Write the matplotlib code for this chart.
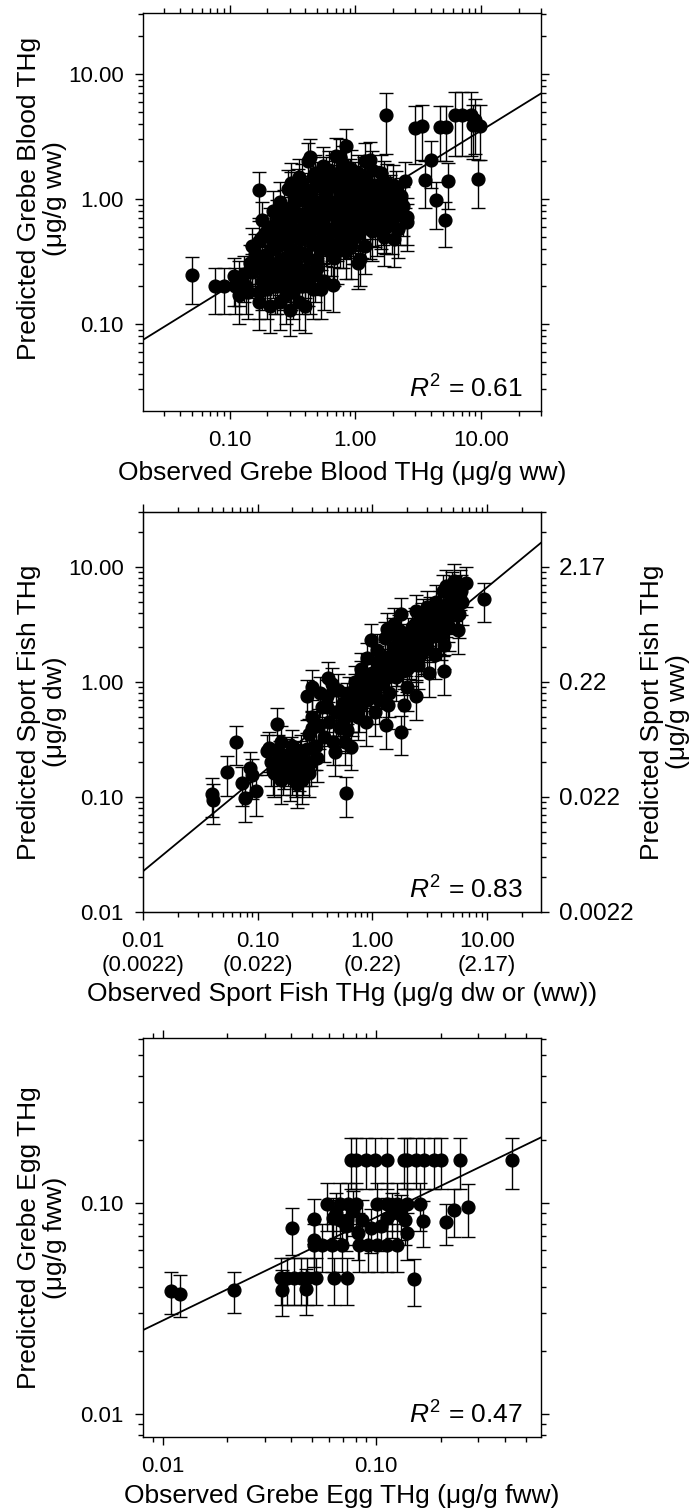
import numpy as np
import matplotlib
matplotlib.use('Agg')
import matplotlib.pyplot as plt
from matplotlib.ticker import LogLocator, NullFormatter

plt.rcParams['font.family'] = ['Liberation Sans', 'DejaVu Sans']
plt.rcParams['mathtext.fontset'] = 'custom'
plt.rcParams['mathtext.rm'] = 'Liberation Sans'
plt.rcParams['mathtext.it'] = 'Liberation Sans:italic'

# ---------------- Panel 1: Grebe blood ----------------
blood_obs = [
    0.050, 0.077, 0.090, 0.109, 0.146, 0.17, 0.18, 0.19, 0.175, 0.31, 0.44, 0.67, 0.85, 0.76, 1.06, 1.10, 1.30, 1.75, 1.75,
    2.04, 2.2, 2.6, 3.0, 3.4, 3.6, 4.0, 4.4, 4.7, 5.3, 5.5, 5.2, 6.2, 7.0, 8.4, 8.7, 9.8, 9.5, 9.0,
    0.42, 0.55, 0.62, 0.70, 0.80, 0.92, 1.05, 1.2, 1.35, 0.48, 0.75, 1.6,
    0.29, 0.33, 0.38, 0.44, 0.50, 0.56, 0.62, 0.68, 0.75, 0.83, 0.92, 1.0, 1.1, 1.25, 1.4, 1.6, 1.8, 2.1, 2.5, 1.9, 2.3, 0.36,
    0.21, 0.24, 0.27, 0.30, 0.33, 0.36, 0.40, 0.44, 0.48, 0.52, 0.57, 0.62, 0.66, 0.72, 0.78, 0.85, 0.90, 1.0, 1.1, 1.2,
    1.35, 1.5, 1.7, 2.0, 0.95, 0.60,
    0.15, 0.18, 0.20, 0.22, 0.25, 0.27, 0.30, 0.34, 0.37, 0.40, 0.45, 0.50, 0.55, 0.60, 0.68, 0.75, 0.85, 1.0, 1.2, 0.42, 0.30,
    0.11, 0.13, 0.14, 0.16, 0.18, 0.20, 0.22, 0.24, 0.26, 0.28, 0.31, 0.34, 0.38, 0.42, 0.46, 0.50, 0.56, 0.19, 0.12,
    0.17, 0.21, 0.25, 0.30, 0.36, 0.40,
    0.31, 0.35, 0.40, 0.46, 0.53, 0.59, 0.65, 0.71, 0.78, 0.87, 0.97, 1.08, 1.18, 1.32, 1.5, 1.7, 2.0, 0.45, 0.58, 0.9,
    0.22, 0.26, 0.29, 0.32, 0.35, 0.39, 0.43, 0.47, 0.51, 0.55, 0.6, 0.65, 0.7, 0.76, 0.82, 0.88, 0.95, 1.05, 1.15, 1.3,
    1.45, 1.6, 0.25, 0.38, 0.5,
    0.16, 0.17, 0.19, 0.21, 0.23, 0.26, 0.28, 0.32, 0.35, 0.39, 0.43, 0.48, 0.52, 0.58, 0.64, 0.72, 0.8, 0.92, 0.24, 0.33,
    0.12, 0.135, 0.15, 0.17, 0.19, 0.21, 0.23, 0.25, 0.27, 0.29, 0.32, 0.36, 0.40, 0.44, 0.48, 0.53, 0.15, 0.22, 0.3,
    0.7, 0.75, 0.8, 0.86, 0.92, 0.98, 1.04, 1.1, 1.17, 1.24, 1.32, 1.4, 1.48, 1.56, 1.65, 1.75, 1.85, 1.95, 2.1, 2.25,
    2.4, 2.6, 0.72, 0.84, 0.96, 1.08, 1.2, 1.36, 1.52, 1.7, 1.9, 2.2, 0.78, 0.9, 1.0, 1.14, 1.28, 1.44,
]
blood_pred = [
    0.245, 0.20, 0.20, 0.24, 0.31, 1.17, 0.68, 0.53, 0.35, 1.17, 2.18, 0.205, 2.65, 2.18, 0.31, 0.33, 2.05, 4.7, 0.60,
    0.475, 0.98, 0.72, 3.7, 3.84, 1.42, 2.07, 0.98, 3.8, 3.8, 1.39, 0.68, 4.7, 4.7, 4.7, 3.9, 3.84, 1.45, 4.3,
    2.0, 1.85, 1.7, 2.2, 1.9, 1.75, 1.6, 2.0, 1.7, 1.6, 1.55, 1.6,
    1.2, 1.05, 1.35, 1.15, 1.4, 1.0, 1.25, 1.45, 1.1, 1.3, 1.05, 1.4, 1.2, 1.0, 1.3, 1.15, 1.35, 1.2, 1.4, 1.0, 1.05, 1.5,
    0.60, 0.70, 0.85, 0.65, 0.95, 0.75, 0.60, 0.90, 0.70, 0.82, 0.60, 0.95, 0.75, 0.62, 0.88, 0.70, 0.56, 0.80, 0.65, 0.92,
    0.70, 0.85, 0.62, 0.75, 0.98, 0.58,
    0.42, 0.50, 0.36, 0.45, 0.32, 0.52, 0.40, 0.30, 0.48, 0.36, 0.44, 0.32, 0.50, 0.40, 0.34, 0.46, 0.38, 0.50, 0.42, 0.54, 0.55,
    0.20, 0.25, 0.18, 0.28, 0.22, 0.19, 0.27, 0.20, 0.24, 0.17, 0.22, 0.26, 0.20, 0.24, 0.19, 0.28, 0.22, 0.30, 0.17,
    0.15, 0.14, 0.15, 0.13, 0.15, 0.14,
    1.35, 1.2, 1.05, 1.5, 1.25, 1.1, 1.55, 1.3, 1.45, 1.15, 1.25, 1.05, 1.5, 1.15, 1.05, 1.4, 1.3, 1.0, 1.5, 1.45,
    0.8, 0.62, 0.72, 0.88, 0.58, 0.7, 0.82, 0.6, 0.95, 0.72, 0.85, 0.58, 0.9, 0.72, 0.6, 0.85, 0.68, 0.9, 0.78, 0.6,
    0.95, 0.72, 0.95, 0.98, 0.62,
    0.36, 0.46, 0.3, 0.52, 0.4, 0.44, 0.34, 0.5, 0.38, 0.54, 0.33, 0.46, 0.4, 0.52, 0.44, 0.38, 0.5, 0.42, 0.55, 0.35,
    0.23, 0.2, 0.26, 0.18, 0.25, 0.23, 0.2, 0.28, 0.21, 0.25, 0.18, 0.23, 0.27, 0.2, 0.25, 0.19, 0.3, 0.3, 0.29,
    0.95, 0.78, 1.2, 0.9, 0.68, 1.1, 0.85, 1.3, 0.72, 1.0, 0.82, 1.15, 0.6, 0.95, 0.75, 1.05, 0.85, 0.62, 0.95, 0.75,
    0.88, 0.65, 0.55, 1.4, 0.52, 0.65, 1.45, 0.55, 1.25, 0.5, 1.1, 0.58, 0.64, 0.6, 1.0, 0.58, 0.95, 0.7,
]
blood_err = [
    0.10, 0.08, 0.08, 0.10, 0.12, 0.47, 0.27, 0.21, 0.14, 0.47, 0.85, 0.08, 1.0, 0.85, 0.12, 0.13, 0.8, 2.4, 0.24,
    0.19, 0.4, 0.29, 1.8, 1.8, 0.58, 0.85, 0.4, 1.8, 1.8, 0.56, 0.27, 2.5, 2.5, 2.5, 1.8, 1.8, 0.6, 2.0,
    0.8, 0.75, 0.7, 0.85, 0.75, 0.7, 0.65, 0.8, 0.7, 0.65, 0.62, 0.65,
    0.5, 0.42, 0.55, 0.46, 0.56, 0.4, 0.5, 0.58, 0.44, 0.52, 0.42, 0.56, 0.48, 0.4, 0.52, 0.46, 0.54, 0.48, 0.56, 0.4, 0.42, 0.6,
    0.24, 0.28, 0.34, 0.26, 0.38, 0.3, 0.24, 0.36, 0.28, 0.33, 0.24, 0.38, 0.3, 0.25, 0.35, 0.28, 0.22, 0.32, 0.26, 0.37,
    0.28, 0.34, 0.25, 0.3, 0.39, 0.23,
    0.17, 0.2, 0.14, 0.18, 0.13, 0.21, 0.16, 0.12, 0.19, 0.14, 0.18, 0.13, 0.2, 0.16, 0.14, 0.18, 0.15, 0.2, 0.17, 0.22, 0.22,
    0.08, 0.1, 0.07, 0.11, 0.09, 0.08, 0.11, 0.08, 0.1, 0.07, 0.09, 0.1, 0.08, 0.1, 0.08, 0.11, 0.09, 0.12, 0.07,
    0.06, 0.055, 0.06, 0.05, 0.06, 0.055,
    0.6, 0.54, 0.47, 0.68, 0.56, 0.5, 0.7, 0.58, 0.65, 0.52, 0.56, 0.47, 0.68, 0.52, 0.47, 0.63, 0.58, 0.45, 0.68, 0.65,
    0.36, 0.28, 0.32, 0.4, 0.26, 0.32, 0.37, 0.27, 0.43, 0.32, 0.38, 0.26, 0.4, 0.32, 0.27, 0.38, 0.31, 0.4, 0.35, 0.27,
    0.43, 0.32, 0.43, 0.44, 0.28,
    0.16, 0.21, 0.13, 0.23, 0.18, 0.2, 0.15, 0.22, 0.17, 0.24, 0.15, 0.21, 0.18, 0.23, 0.2, 0.17, 0.22, 0.19, 0.25, 0.16,
    0.09, 0.08, 0.1, 0.07, 0.1, 0.09, 0.08, 0.11, 0.08, 0.1, 0.07, 0.09, 0.11, 0.08, 0.1, 0.08, 0.12, 0.12, 0.12,
    0.4, 0.33, 0.5, 0.38, 0.29, 0.46, 0.36, 0.55, 0.3, 0.42, 0.34, 0.48, 0.25, 0.4, 0.32, 0.44, 0.36, 0.26, 0.4, 0.32,
    0.37, 0.27, 0.23, 0.59, 0.22, 0.27, 0.61, 0.23, 0.53, 0.21, 0.46, 0.24, 0.27, 0.25, 0.42, 0.24, 0.4, 0.29,
]
blood_fit = (0.84, 0.623)      # pred = a * obs ** b
blood_r2 = "0.61"

# ---------------- Panel 2: Sport fish ----------------
fish_obs = [
    0.040, 0.041, 0.054, 0.065, 0.073, 0.077, 0.085, 0.089, 0.097, 0.126, 0.147, 0.245, 0.30, 0.41, 0.47, 0.59, 0.58, 0.65,
    0.98, 1.32, 1.36, 1.78, 1.9, 2.4, 1.78, 2.4, 3.1, 4.17, 4.1, 5.1, 6.5, 5.7, 9.4,
    0.13, 0.14, 0.15, 0.16, 0.17, 0.18, 0.19, 0.20, 0.21, 0.22, 0.23, 0.24, 0.26, 0.28, 0.16, 0.20,
    0.28, 0.30, 0.32, 0.34, 0.36, 0.38, 0.40, 0.42, 0.45, 0.48, 0.50, 0.52, 0.55, 0.58, 0.60, 0.35, 0.44, 0.62, 0.27, 0.33,
    0.65, 0.70, 0.75, 0.80, 0.85, 0.90, 0.95, 1.0, 1.05, 1.1, 1.2, 1.25, 1.3, 1.4, 1.5, 1.6, 1.7, 1.8, 1.9, 2.0,
    0.72, 1.15, 0.88, 1.55, 1.35,
    2.1, 2.2, 2.3, 2.5, 2.6, 2.7, 2.8, 3.0, 3.1, 3.3, 3.5, 3.6, 3.8, 4.0, 4.2, 4.5, 4.7, 4.9, 5.2, 5.4, 5.8, 6.0,
    4.4, 3.2, 2.4, 5.6,
    0.5, 0.55, 0.6, 0.66, 0.7, 0.76, 0.82, 0.9, 0.97, 1.05, 1.12, 1.2, 1.28, 1.38, 1.45, 1.55, 1.65, 1.75, 1.85, 1.95,
    2.05, 2.15, 2.25, 2.35, 2.45, 2.55, 2.65, 2.75, 2.9, 3.05, 3.2, 3.4, 3.6, 3.85, 4.1, 4.35, 4.6, 4.8, 5.0, 5.3,
    5.5, 5.9, 0.8, 1.1, 1.5, 2.0, 3.0, 4.0, 0.3, 0.4,
    0.135, 0.155, 0.165, 0.185, 0.195, 0.215, 0.235, 0.25, 0.27, 0.29, 0.12, 0.31,
]
fish_pred = [
    0.107, 0.094, 0.165, 0.30, 0.133, 0.098, 0.177, 0.154, 0.112, 0.264, 0.43, 0.14, 0.91, 1.08, 0.247, 0.108, 0.30, 0.27,
    2.3, 0.42, 0.63, 0.37, 0.63, 0.75, 3.9, 4.1, 1.19, 1.24, 6.2, 7.6, 7.2, 3.9, 5.3,
    0.20, 0.16, 0.25, 0.14, 0.19, 0.23, 0.15, 0.17, 0.21, 0.13, 0.18, 0.25, 0.20, 0.16, 0.30, 0.28,
    0.35, 0.50, 0.28, 0.42, 0.60, 0.33, 0.75, 0.45, 0.30, 0.55, 0.85, 0.40, 0.65, 0.50, 0.38, 0.80, 0.95, 0.80, 0.75, 0.22,
    0.60, 1.0, 0.50, 1.3, 0.75, 1.6, 0.90, 1.2, 0.55, 1.9, 1.0, 1.4, 2.4, 0.80, 1.8, 1.1, 2.8, 1.5, 2.2, 0.90,
    0.75, 0.70, 0.45, 3.2, 2.9,
    1.7, 3.0, 2.2, 1.4, 2.6, 3.5, 1.9, 4.5, 2.4, 3.1, 1.7, 5.0, 2.8, 3.6, 2.1, 4.8, 3.0, 6.5, 5.5, 4.2, 6.8, 5.0,
    6.8, 4.0, 1.6, 2.8,
    0.55, 0.45, 0.7, 0.55, 0.85, 0.6, 0.95, 0.7, 1.05, 0.8, 1.3, 0.95, 1.6, 1.1, 1.35, 2.0, 1.5, 2.3, 1.25, 1.8,
    2.6, 1.5, 2.0, 3.2, 2.2, 2.9, 1.8, 3.8, 2.5, 3.3, 2.8, 3.8, 3.2, 4.5, 2.7, 4.0, 3.6, 5.5, 4.4, 6.0,
    5.0, 6.2, 1.1, 1.5, 2.6, 1.3, 2.0, 2.5, 0.4, 0.6,
    0.17, 0.22, 0.17, 0.2, 0.24, 0.16, 0.22, 0.17, 0.26, 0.2, 0.25, 0.27,
]
fish_err = [
    0.04, 0.036, 0.063, 0.11, 0.05, 0.037, 0.067, 0.058, 0.043, 0.1, 0.16, 0.053, 0.35, 0.41, 0.094, 0.041, 0.11, 0.1,
    0.87, 0.16, 0.24, 0.14, 0.24, 0.28, 1.5, 1.55, 0.45, 0.47, 2.35, 2.9, 2.7, 1.5, 2.0,
    0.076, 0.06, 0.095, 0.053, 0.072, 0.087, 0.057, 0.065, 0.08, 0.05, 0.068, 0.095, 0.076, 0.06, 0.11, 0.1,
    0.13, 0.19, 0.11, 0.16, 0.23, 0.13, 0.28, 0.17, 0.11, 0.21, 0.32, 0.15, 0.25, 0.19, 0.14, 0.3, 0.36, 0.3, 0.28, 0.084,
    0.23, 0.38, 0.19, 0.49, 0.28, 0.6, 0.34, 0.46, 0.21, 0.72, 0.38, 0.53, 0.9, 0.3, 0.68, 0.42, 1.05, 0.57, 0.83, 0.34,
    0.28, 0.27, 0.17, 1.2, 1.1,
    0.65, 1.15, 0.84, 0.53, 1.0, 1.33, 0.72, 1.7, 0.91, 1.18, 0.65, 1.9, 1.06, 1.37, 0.8, 1.82, 1.14, 2.47, 2.1, 1.6, 2.58, 1.9,
    2.58, 1.52, 0.61, 1.06,
    0.21, 0.17, 0.27, 0.21, 0.32, 0.23, 0.36, 0.27, 0.4, 0.3, 0.49, 0.36, 0.61, 0.42, 0.51, 0.76, 0.57, 0.87, 0.48, 0.68,
    0.99, 0.57, 0.76, 1.22, 0.84, 1.1, 0.68, 1.44, 0.95, 1.25, 1.06, 1.44, 1.22, 1.71, 1.03, 1.52, 1.37, 2.09, 1.67, 2.28,
    1.9, 2.36, 0.42, 0.57, 0.99, 0.49, 0.76, 0.95, 0.15, 0.23,
    0.065, 0.084, 0.065, 0.076, 0.09, 0.06, 0.084, 0.065, 0.1, 0.076, 0.095, 0.1,
]
fish_fit = (1.0, 0.823)
fish_r2 = "0.83"
fish_tick_dw = ["0.01", "0.10", "1.00", "10.00"]
fish_tick_ww = ["0.0022", "0.022", "0.22", "2.17"]

# ---------------- Panel 3: Grebe egg ----------------
egg_obs = [
    0.076, 0.080, 0.090, 0.099, 0.112, 0.135, 0.140, 0.153, 0.167, 0.186, 0.200, 0.246, 0.43,
    0.059, 0.068, 0.074, 0.080, 0.101, 0.112, 0.125, 0.140, 0.161,
    0.051, 0.063, 0.068, 0.073, 0.086, 0.094, 0.112, 0.137, 0.166, 0.211, 0.231, 0.270,
    0.0405, 0.051, 0.051, 0.056, 0.062, 0.069, 0.083, 0.091, 0.101, 0.112, 0.125, 0.140,
    0.0357, 0.0384, 0.0412, 0.0443, 0.0476, 0.052, 0.0634, 0.073, 0.150, 0.0364, 0.0468,
    0.0109, 0.0121, 0.0216,
    0.065, 0.072, 0.078, 0.082, 0.105, 0.118, 0.130,
]
egg_pred = [
    0.16, 0.16, 0.16, 0.16, 0.16, 0.16, 0.16, 0.16, 0.16, 0.16, 0.16, 0.16, 0.16,
    0.099, 0.099, 0.099, 0.099, 0.099, 0.099, 0.099, 0.099, 0.099,
    0.084, 0.085, 0.083, 0.083, 0.083, 0.076, 0.085, 0.083, 0.082, 0.081, 0.093, 0.096,
    0.076, 0.067, 0.0634, 0.0634, 0.0634, 0.0634, 0.0634, 0.0634, 0.0634, 0.0634, 0.0634, 0.072,
    0.044, 0.044, 0.044, 0.044, 0.044, 0.044, 0.044, 0.044, 0.0435, 0.0386, 0.039,
    0.0384, 0.0373, 0.0386,
    0.090, 0.078, 0.092, 0.072, 0.078, 0.090, 0.088,
]
egg_err = [
    0.043, 0.043, 0.043, 0.043, 0.043, 0.043, 0.043, 0.043, 0.043, 0.043, 0.043, 0.043, 0.043,
    0.025, 0.025, 0.025, 0.025, 0.025, 0.025, 0.025, 0.025, 0.025,
    0.02, 0.021, 0.02, 0.02, 0.02, 0.018, 0.021, 0.02, 0.02, 0.018, 0.024, 0.027,
    0.019, 0.017, 0.016, 0.016, 0.016, 0.016, 0.016, 0.016, 0.016, 0.016, 0.016, 0.018,
    0.011, 0.011, 0.011, 0.011, 0.011, 0.011, 0.011, 0.011, 0.011, 0.0095, 0.0095,
    0.0085, 0.0085, 0.0085,
    0.022, 0.019, 0.022, 0.018, 0.019, 0.022, 0.021,
]
egg_fit = (0.265, 0.49)
egg_r2 = "0.47"

TICK_FS = 16
RTICK_FS = 17.5
LABEL_FS = 19

fig = plt.figure(figsize=(6.99, 15.12), dpi=100)
L, W = 143 / 699, 398 / 699
ax1 = fig.add_axes([L, 1 - 411 / 1512, W, 398 / 1512])
ax2 = fig.add_axes([L, 1 - 912 / 1512, W, 400 / 1512])
ax3 = fig.add_axes([L, 1 - 1437 / 1512, W, 399 / 1512])


def draw(ax, obs, pred, err, fit, r2, xlim, ylim):
    ax.set_xscale('log')
    ax.set_yscale('log')
    xs = np.logspace(np.log10(xlim[0]), np.log10(xlim[1]), 50)
    ax.plot(xs, fit[0] * xs ** fit[1], color='black', lw=1.3, zorder=2)
    ax.errorbar(obs, pred, yerr=err, fmt='o', color='black', ms=9.2,
                elinewidth=1.0, capsize=4.7, capthick=1.0, zorder=3)
    ax.set_xlim(xlim)
    ax.set_ylim(ylim)
    for s in ax.spines.values():
        s.set_linewidth(1.0)
    ax.xaxis.set_minor_locator(LogLocator(base=10, subs=np.arange(2, 10), numticks=20))
    ax.yaxis.set_minor_locator(LogLocator(base=10, subs=np.arange(2, 10), numticks=20))
    ax.xaxis.set_minor_formatter(NullFormatter())
    ax.yaxis.set_minor_formatter(NullFormatter())
    ax.tick_params(which='both', direction='out', top=True, right=True, width=1.0,
                   labelsize=TICK_FS, pad=8)
    ax.tick_params(which='major', length=5.8)
    ax.tick_params(which='minor', length=3.5)
    ax.text(0.955, 0.055, r"$\mathit{R}^{2}$ = " + r2, transform=ax.transAxes,
            ha='right', va='center', fontsize=LABEL_FS)


draw(ax1, blood_obs, blood_pred, blood_err, blood_fit, blood_r2, (0.0205, 30), (0.0201, 30.8))
ax1.set_xticks([0.1, 1, 10])
ax1.set_xticklabels(["0.10", "1.00", "10.00"])
ax1.set_yticks([0.1, 1, 10])
ax1.set_yticklabels(["0.10", "1.00", "10.00"])
ax1.set_xlabel("Observed Grebe Blood THg (μg/g ww)", fontsize=LABEL_FS, labelpad=7)
ax1.set_ylabel("Predicted Grebe Blood THg\n(μg/g ww)", fontsize=LABEL_FS, linespacing=1.1)
ax1.yaxis.set_label_coords(-0.19, 0.535)

draw(ax2, fish_obs, fish_pred, fish_err, fish_fit, fish_r2, (0.0102, 29.5), (0.01, 30))
ax2.set_xticks([0.01, 0.1, 1, 10])
ax2.set_xticklabels([a + "\n(" + b + ")" for a, b in zip(fish_tick_dw, fish_tick_ww)], linespacing=1.2)
ax2.set_yticks([0.01, 0.1, 1, 10])
ax2.set_yticklabels(fish_tick_dw)
ax2.tick_params(which='both', right=False)
ax2.set_xlabel("Observed Sport Fish THg (μg/g dw or (ww))", fontsize=LABEL_FS, labelpad=4)
ax2.set_ylabel("Predicted Sport Fish THg\n(μg/g dw)", fontsize=LABEL_FS, linespacing=1.1)
ax2.yaxis.set_label_coords(-0.19, 0.5)
tw = ax2.twinx()
tw.set_yscale('log')
tw.set_ylim(ax2.get_ylim())
tw.set_yticks([0.01, 0.1, 1, 10])
tw.set_yticklabels(fish_tick_ww)
tw.yaxis.set_minor_locator(LogLocator(base=10, subs=np.arange(2, 10), numticks=20))
tw.yaxis.set_minor_formatter(NullFormatter())
tw.tick_params(which='both', direction='out', width=1.0, labelsize=RTICK_FS, pad=7)
tw.tick_params(which='major', length=5.8)
tw.tick_params(which='minor', length=3.5)
tw.set_ylabel("Predicted Sport Fish THg\n(μg/g ww)", fontsize=LABEL_FS, linespacing=1.1)
tw.yaxis.set_label_coords(1.25, 0.5)

draw(ax3, egg_obs, egg_pred, egg_err, egg_fit, egg_r2, (0.0081, 0.59), (0.0078, 0.605))
ax3.set_xticks([0.01, 0.1])
ax3.set_xticklabels(["0.01", "0.10"])
ax3.set_yticks([0.01, 0.1])
ax3.set_yticklabels(["0.01", "0.10"])
ax3.set_xlabel("Observed Grebe Egg THg (μg/g fww)", fontsize=LABEL_FS, labelpad=5)
ax3.set_ylabel("Predicted Grebe Egg THg\n(μg/g fww)", fontsize=LABEL_FS, linespacing=1.1)
ax3.yaxis.set_label_coords(-0.19, 0.5)

fig.savefig("out.png", dpi=100)
